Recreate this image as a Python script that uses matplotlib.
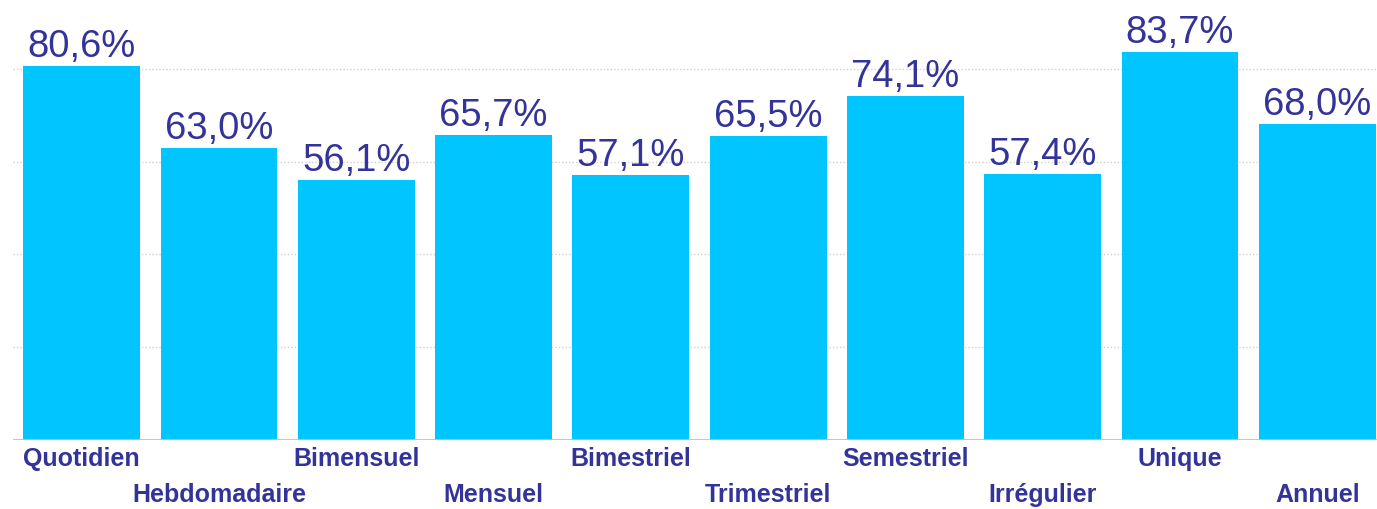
import matplotlib
matplotlib.use("Agg")
import matplotlib.pyplot as plt
from matplotlib.transforms import blended_transform_factory

categories = ["Quotidien", "Hebdomadaire", "Bimensuel", "Mensuel", "Bimestriel",
              "Trimestriel", "Semestriel", "Irrégulier", "Unique", "Annuel"]
values = [80.6, 63.0, 56.1, 65.7, 57.1, 65.5, 74.1, 57.4, 83.7, 68.0]
value_labels = ["80,6%", "63,0%", "56,1%", "65,7%", "57,1%",
                "65,5%", "74,1%", "57,4%", "83,7%", "68,0%"]
gridlines = [20, 40, 60, 80]

DPI = 100
W, H = 1377, 509
fig = plt.figure(figsize=(W / DPI, H / DPI), dpi=DPI)
plt.rcParams['font.family'] = ['Liberation Sans', 'DejaVu Sans']

# axes pixel geometry
left_px, right_px = 13, 1386
base_px = 440
px_per_pct = 4.64
ymax = 90
top_px = base_px - ymax * px_per_pct
ax = fig.add_axes([left_px / W, (H - base_px) / H,
                   (right_px - left_px) / W, (base_px - top_px) / H])

bar_color = "#00C5FF"
text_color = "#333399"

x = list(range(len(categories)))
ax.bar(x, values, width=0.85, color=bar_color, zorder=2)
ax.set_xlim(-0.5, len(categories) - 0.5)
ax.set_ylim(0, ymax)

for g in gridlines:
    ax.axhline(g, color="#d0d0d0", linestyle=(0, (1, 1.5)), linewidth=1.0, zorder=1)
ax.axhline(0, color="#c0c0c0", linewidth=2.0, zorder=3)

for s in ax.spines.values():
    s.set_visible(False)
ax.set_xticks([])
ax.set_yticks([])

for xi, v, lab in zip(x, values, value_labels):
    ax.annotate(lab, (xi, v), xytext=(0, 6.5), textcoords="offset points",
                ha="center", va="baseline", fontsize=27.5, color=text_color)

trans = blended_transform_factory(ax.transData, ax.transAxes)
for i, (xi, c) in enumerate(zip(x, categories)):
    off = -18.7 if i % 2 == 0 else -44.6
    ax.annotate(c, (xi, 0), xycoords=trans, xytext=(0, off), textcoords="offset points",
                ha="center", va="baseline", fontsize=18, fontweight="bold",
                color=text_color, annotation_clip=False)

fig.savefig("out.png", dpi=DPI)
